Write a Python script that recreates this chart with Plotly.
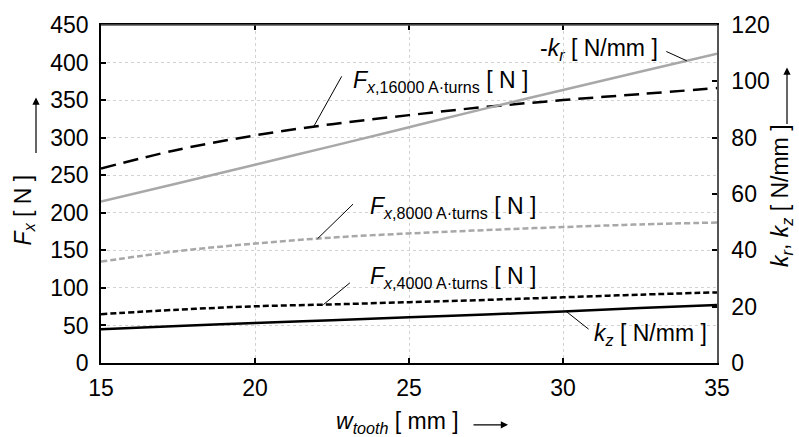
import numpy as np
import plotly.graph_objects as go

# ---- data ----
w_tooth = [15, 17.5, 20, 22.5, 25, 27.5, 30, 32.5, 35]
fx_16000 = [259, 284, 303, 318, 330, 341, 350, 358, 366]
fx_8000 = [135, 149, 159, 167, 172.5, 177, 181, 184.5, 187]
fx_4000 = [65, 71, 75.5, 78, 81, 84, 87.5, 91, 94]
neg_kr = [57.3, 63.8, 70.4, 77.0, 83.7, 90.4, 96.9, 103.4, 109.8]
kz = [12.0, 13.1, 14.2, 15.2, 16.2, 17.2, 18.3, 19.5, 20.6]

x_ticks = [15, 20, 25, 30, 35]
y_left_ticks = [0, 50, 100, 150, 200, 250, 300, 350, 400, 450]
y_right_ticks = [0, 20, 40, 60, 80, 100, 120]

FONT = "Liberation Sans, Arial, sans-serif"
GRAY = "#a8a8a8"
FS = 23

fig = go.Figure()
fig.add_trace(go.Scatter(x=w_tooth, y=fx_16000, mode="lines",
                         line=dict(color="black", width=2.5, dash="15px,8px", shape="spline")))
fig.add_trace(go.Scatter(x=w_tooth, y=fx_8000, mode="lines",
                         line=dict(color=GRAY, width=2.5, dash="6px,3px", shape="spline")))
fig.add_trace(go.Scatter(x=w_tooth, y=fx_4000, mode="lines",
                         line=dict(color="black", width=2.5, dash="6px,3px", shape="spline")))
fig.add_trace(go.Scatter(x=w_tooth, y=neg_kr, mode="lines", yaxis="y2",
                         line=dict(color=GRAY, width=2.5, shape="spline")))
fig.add_trace(go.Scatter(x=w_tooth, y=kz, mode="lines", yaxis="y2",
                         line=dict(color="black", width=2.5, shape="spline")))

annotations = []

def leader(xv, xs, ys, ax, ay, yref="y"):
    yv = float(np.interp(xv, xs, ys))
    annotations.append(dict(x=xv, y=yv, xref="x", yref=yref, text="", showarrow=True,
                            arrowhead=0, arrowwidth=1, arrowcolor="black",
                            ax=ax, ay=ay, axref="pixel", ayref="pixel", standoff=0, startstandoff=0))

leader(21.9, w_tooth, fx_16000, 29, -52)
leader(34.02, w_tooth, neg_kr, -22, -10, yref="y2")
leader(22.03, w_tooth, fx_8000, 37, -36)
leader(22.22, w_tooth, fx_4000, 28, -23)
leader(30.1, w_tooth, kz, 24, 19, yref="y2")

W, H = 799, 437
L, R, T, B = 101, 82, 13, 74
pw, ph = W - L - R, H - T - B

def px(X):
    return (X - L) / pw

def py(Y):
    return (H - B - Y) / ph

def label(text, X, Y, xanchor="left", angle=0, size=FS):
    annotations.append(dict(x=px(X), y=py(Y), xref="paper", yref="paper", text=text,
                            showarrow=False, xanchor=xanchor, yanchor="middle",
                            textangle=angle, font=dict(family=FONT, size=size, color="black")))

label("<i>F</i><sub><i>x</i>,16000 A·turns</sub> [ N ]", 351, 72)
label("-<i>k</i><sub><i>r</i></sub> [ N/mm ]", 538, 38)
label("<i>F</i><sub><i>x</i>,8000 A·turns</sub> [ N ]", 368, 202)
label("<i>F</i><sub><i>x</i>,4000 A·turns</sub> [ N ]", 368, 274)
label("<i>k</i><sub><i>z</i></sub> [ N/mm ]", 592, 334)

# axis titles
label("<i>F</i><sub><i>x</i></sub> [ N ]", 24, 205, xanchor="center", angle=-90)
label("<i>k</i><sub><i>r</i></sub>, <i>k</i><sub><i>z</i></sub> [ N/mm ]", 782, 190, xanchor="center", angle=-90)
label("<i>w</i><sub><i>tooth</i></sub> [ mm ]", 397, 425, xanchor="center")

# axis arrows
def arrow(X1, Y1, X2, Y2):
    annotations.append(dict(x=px(X2), y=py(Y2), xref="paper", yref="paper", text="",
                            showarrow=True, arrowhead=2, arrowsize=1.2, arrowwidth=1.2,
                            arrowcolor="black", ax=X1 - X2, ay=Y1 - Y2,
                            axref="pixel", ayref="pixel", standoff=0, startstandoff=0))

arrow(36, 145, 36, 88)
arrow(787, 115, 787, 57)
arrow(472, 427, 508, 427)

fig.update_layout(
    width=W, height=H,
    margin=dict(l=L, r=R, t=T, b=B, pad=0),
    paper_bgcolor="white", plot_bgcolor="white",
    showlegend=False,
    font=dict(family=FONT, size=FS, color="black"),
    xaxis=dict(range=[15, 35], tickvals=x_ticks, ticks="inside", ticklen=5, tickwidth=2,
               tickcolor="black", showline=True, linecolor="black", linewidth=1.5, mirror="ticks",
               showgrid=True, gridcolor="#d2d2d2", griddash="dot", gridwidth=1,
               zeroline=False, ticklabelstandoff=4, tickfont=dict(family=FONT, size=FS)),
    yaxis=dict(range=[0, 450], tickvals=y_left_ticks, ticks="inside", ticklen=5, tickwidth=2,
               tickcolor="black", showline=True, linecolor="black", linewidth=1.5,
               showgrid=True, gridcolor="#d2d2d2", griddash="dot", gridwidth=1,
               zeroline=False, ticklabelstandoff=6, tickfont=dict(family=FONT, size=FS)),
    yaxis2=dict(range=[0, 120], tickvals=y_right_ticks, overlaying="y", side="right",
                ticks="inside", ticklen=5, tickwidth=2, tickcolor="black",
                showline=True, linecolor="#555555", linewidth=1.5, showgrid=False,
                zeroline=False, ticklabelstandoff=8, tickfont=dict(family=FONT, size=FS)),
    annotations=annotations,
)
# top spine line
fig.add_shape(type="line", xref="paper", yref="paper", x0=0, x1=1, y0=1, y1=1,
              line=dict(color="#555555", width=1.5))

fig.write_html("out.html")
